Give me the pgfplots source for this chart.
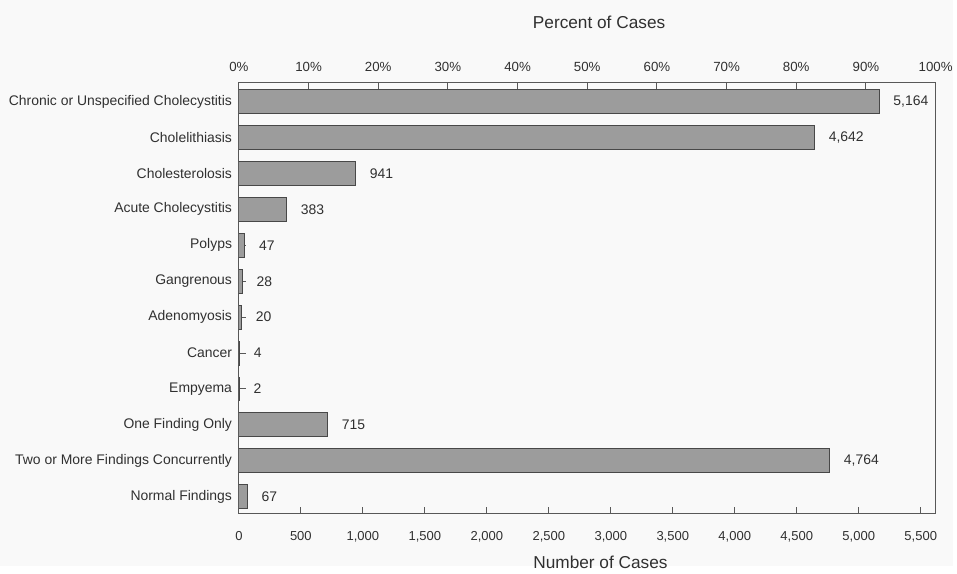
\documentclass[border=0pt]{standalone}
\usepackage{pgfplots}
\pgfplotsset{compat=1.18}
\usepackage{fontspec}
\setmainfont{Liberation Sans}
\definecolor{txt}{HTML}{303030}
\definecolor{barfill}{HTML}{9C9C9C}
\definecolor{baredge}{HTML}{484848}
\definecolor{axc}{HTML}{585858}
\definecolor{bg}{HTML}{F9F9F9}
\begin{document}
\begin{tikzpicture}
\fill[bg] (0,0) rectangle (717.75pt,426.75pt);
\begin{axis}[
  at={(180pt,39.75pt)}, anchor=south west,
  scale only axis, width=525pt, height=324.75pt,
  xmin=0, xmax=5620,
  ymin=-0.53, ymax=11.47, y dir=reverse,
  axis line style={axc, line width=0.7pt},
  every tick/.style={axc, line width=0.7pt},
  tick align=inside,
  major tick length=5pt,
  xtick pos=bottom, ytick pos=left,
  xtick={0,500,...,5500},
  xticklabel style={font=\fontsize{9.8}{11}\selectfont, text=txt, yshift=-10pt},
  /pgf/number format/.cd, 1000 sep={,}, assume math mode=true, /pgfplots/.cd,
  ytick={0,...,11},
  yticklabels={Chronic or Unspecified Cholecystitis, Cholelithiasis, Cholesterolosis, Acute Cholecystitis, Polyps, Gangrenous, Adenomyosis, Cancer, Empyema, One Finding Only, Two or More Findings Concurrently, Normal Findings},
  yticklabel style={font=\fontsize{10.5}{12}\selectfont, text=txt, inner sep=0pt, xshift=-5pt},
  xlabel={Number of Cases},
  xlabel style={font=\fontsize{13}{15}\selectfont, text=txt, at={(axis description cs:0.519,0)}, anchor=center, yshift=-37pt},
]
\addplot[xbar, bar width=18pt, fill=barfill, draw=baredge, line width=0.7pt,
  point meta=x,
  nodes near coords={\pgfmathprintnumber{\pgfplotspointmeta}},
  nodes near coords align={horizontal},
  every node near coord/.append style={font=\fontsize{10.5}{12}\selectfont, text=txt, anchor=west, inner sep=0pt, xshift=10.5pt},
] coordinates {
(5164,0) (4642,1) (941,2) (383,3) (47,4) (28,5) (20,6) (4,7) (2,8) (715,9) (4764,10) (67,11)
};
\end{axis}
\begin{axis}[
  at={(180pt,39.75pt)}, anchor=south west,
  scale only axis, width=525pt, height=324.75pt,
  xmin=0, xmax=100, ymin=0, ymax=1,
  axis x line*=top, axis y line=none,
  axis line style={axc, line width=0.7pt},
  every tick/.style={axc, line width=0.7pt},
  tick align=inside, major tick length=5pt,
  xtick={0,10,...,100},
  xticklabel={\pgfmathprintnumber{\tick}\%},
  /pgf/number format/assume math mode=true,
  xticklabel style={font=\fontsize{10}{12}\selectfont, text=txt, yshift=5pt},
  xlabel={Percent of Cases},
  xlabel style={font=\fontsize{13}{15}\selectfont, text=txt, at={(axis description cs:0.517,1)}, anchor=center, yshift=45.75pt},
]
\addplot[draw=none] coordinates {(0,0)};
\end{axis}
\end{tikzpicture}
\end{document}
